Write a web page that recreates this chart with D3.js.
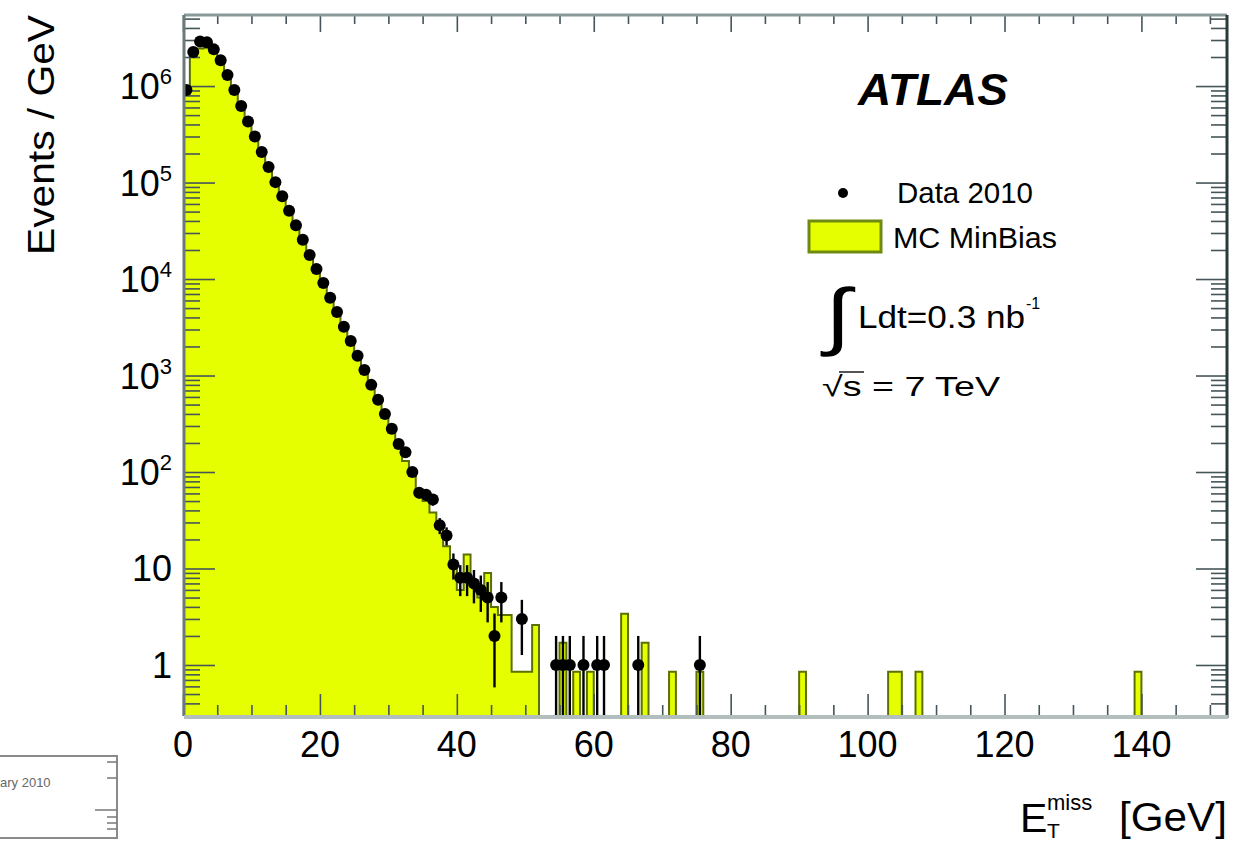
<!DOCTYPE html>
<html><head><meta charset="utf-8">
<script src="https://cdn.jsdelivr.net/npm/d3@7"></script>
<style>
body{margin:0;background:#fff}
text{font-family:"Liberation Sans",Arial,Helvetica,sans-serif;fill:#000}
</style>
</head><body>
<svg id="c" width="1237" height="841"></svg>
<script>
// ---- data: 1 GeV bins starting at 0 GeV ----
const dataCore = [9.1e5,2.25e6,2.9e6,2.85e6,2.4e6,1.85e6,1.3e6,9.1e5,6.2e5,4.3e5,
  3.0e5,2.07e5,1.45e5,1.01e5,7.2e4,5.1e4,3.6e4,2.55e4,1.77e4,1.27e4,
  9100,6400,4550,3200,2280,1600,1140,800,560,400,
  280,195,160,100,61,58,52,28,22,11,
  8,8,7,6,5,2,5,0,0,3];
const dataTailBins = [54,55,56,58,60,61,66,75];
const dataTailValues = [1,1,1,1,1,1,1,1];

const mcCore = [8.5e5,2.0e6,2.45e6,2.5e6,2.2e6,1.7e6,1.2e6,8.4e5,5.8e5,4.0e5,
  2.8e5,1.95e5,1.35e5,9.4e4,6.7e4,4.7e4,3.35e4,2.35e4,1.65e4,1.18e4,
  8400,5900,4200,2950,2100,1480,1050,740,520,365,
  255,180,130,92,65,50,38,26,17,11,
  6,14,7,5,9,4,3.3,3.3,0.85,0.85,
  0.85,2.6,0,0,0,1.7,0,0.85,0,0.85,
  0,0,0,0,3.4,0,0,1.7,0,0,
  0,0.85,0,0,0,0.85];
const mcTailBins = [90,103,104,107,139];
const mcTailValues = [0.85,0.85,0.85,0.85,0.85];

const xTickValues = [0,20,40,60,80,100,120,140];
const xTickLabels = ["0","20","40","60","80","100","120","140"];
const yTickValues = [1,10,100,1e3,1e4,1e5,1e6];
const yTickBase = ["1","10","10","10","10","10","10"];
const yTickExp  = ["","","2","3","4","5","6"];

// ---- setup ----
const svg = d3.select("#c");
const L=184, R=1227, T=15, B=716;
const nBins = 153;
const x = d3.scaleLinear().domain([0,152.5]).range([183,1227]);
const y = d3.scaleLog().domain([0.296,5.45e6]).range([B,T]);
const yv = v => y(Math.max(v, 0.296));

svg.append("defs").append("clipPath").attr("id","pc")
  .append("rect").attr("x",L).attr("y",T).attr("width",R-L).attr("height",B-T);

// assemble MC histogram
const mc = new Array(nBins).fill(0);
mcCore.forEach((v,i)=>mc[i]=v);
mcTailBins.forEach((b,i)=>mc[b]=mcTailValues[i]);
const mcPts = mc.map((v,i)=>({e:i*1, v}));
mcPts.push({e:nBins, v:mc[nBins-1]});

const g = svg.append("g").attr("clip-path","url(#pc)");
g.append("path").datum(mcPts)
  .attr("d", d3.area().x(d=>x(d.e)).y0(B+2).y1(d=>yv(d.v)).curve(d3.curveStepAfter))
  .attr("fill","#e6ff00");
g.append("path").datum(mcPts)
  .attr("d", d3.line().x(d=>x(d.e)).y(d=>yv(d.v)).curve(d3.curveStepAfter))
  .attr("fill","none").attr("stroke","#5a7000").attr("stroke-width",2);

// ---- axes ticks (ROOT style, inward on all four sides) ----
const yMinor = [];
[0.1,1,10,100,1e3,1e4,1e5,1e6].forEach(d=>{for(let k=2;k<=9;k++){const v=d*k; if(v>=0.296&&v<=5.45e6) yMinor.push(v);}});
const xMinor = d3.range(0,151,5).filter(v=>v%20!==0);
const tickCol = "#45555a";
function styleAxis(sel){ sel.select(".domain").remove(); sel.selectAll("line").attr("stroke",tickCol).attr("stroke-width",1.6); }
svg.append("g").attr("transform",`translate(${L},0)`).call(d3.axisLeft(y).tickValues(yTickValues).tickSize(-31).tickFormat("")).call(styleAxis);
svg.append("g").attr("transform",`translate(${L},0)`).call(d3.axisLeft(y).tickValues(yMinor).tickSize(-16).tickFormat("")).call(styleAxis);
svg.append("g").attr("transform",`translate(${R},0)`).call(d3.axisRight(y).tickValues(yTickValues).tickSize(-31).tickFormat("")).call(styleAxis);
svg.append("g").attr("transform",`translate(${R},0)`).call(d3.axisRight(y).tickValues(yMinor).tickSize(-16).tickFormat("")).call(styleAxis);
svg.append("g").attr("transform",`translate(0,${B})`).call(d3.axisBottom(x).tickValues(xTickValues).tickSize(-22).tickFormat("")).call(styleAxis);
svg.append("g").attr("transform",`translate(0,${B})`).call(d3.axisBottom(x).tickValues(xMinor).tickSize(-11).tickFormat("")).call(styleAxis);
svg.append("g").attr("transform",`translate(0,${T})`).call(d3.axisTop(x).tickValues(xTickValues).tickSize(-17).tickFormat("")).call(styleAxis);
svg.append("g").attr("transform",`translate(0,${T})`).call(d3.axisTop(x).tickValues(xMinor).tickSize(-9).tickFormat("")).call(styleAxis);

// ---- data points ----
const dataPts = [];
dataCore.forEach((v,i)=>{ if(v>0) dataPts.push({c:i+0.5, v}); });
dataTailBins.forEach((b,i)=>dataPts.push({c:b+0.5, v:dataTailValues[i]}));
const dp = svg.append("g").attr("clip-path","url(#pc)");
dp.selectAll("line.err").data(dataPts).enter().append("line")
  .attr("x1",d=>x(d.c)).attr("x2",d=>x(d.c))
  .attr("y1",d=>y(d.v+Math.sqrt(d.v)))
  .attr("y2",d=>yv(d.v-Math.sqrt(d.v)))
  .attr("stroke","#000").attr("stroke-width",2.4);
dp.selectAll("circle").data(dataPts).enter().append("circle")
  .attr("cx",d=>x(d.c)).attr("cy",d=>y(d.v)).attr("r",6).attr("fill","#000");

// ---- frame ----
svg.append("line").attr("x1",L).attr("x2",R).attr("y1",T).attr("y2",T).attr("stroke","#8a9a9a").attr("stroke-width",3);
svg.append("line").attr("x1",L).attr("x2",L).attr("y1",T).attr("y2",B).attr("stroke","#6a7a7a").attr("stroke-width",3);
svg.append("line").attr("x1",R).attr("x2",R).attr("y1",T).attr("y2",B+2).attr("stroke","#2a3a3a").attr("stroke-width",3);
svg.append("line").attr("x1",L).attr("x2",R+1).attr("y1",B+1).attr("y2",B+1).attr("stroke","#b3bfbf").attr("stroke-width",4);

// ---- tick labels ----
svg.append("g").selectAll("text").data(xTickValues).enter().append("text")
  .attr("x",d=>x(d)).attr("y",757).attr("text-anchor","middle")
  .attr("font-size",36).text((d,i)=>xTickLabels[i]);

const yl = svg.append("g").selectAll("text").data(yTickValues).enter().append("text")
  .attr("x",172).attr("y",d=>y(d)+13).attr("text-anchor","end").attr("font-size",36);
yl.append("tspan").text((d,i)=>yTickBase[i]);
yl.append("tspan").attr("font-size",22).attr("dy",-15).text((d,i)=>yTickExp[i]);

// ---- axis titles ----
svg.append("text").attr("transform","translate(54,255) rotate(-90)")
  .attr("font-size",36).attr("textLength",240).attr("lengthAdjust","spacingAndGlyphs").text("Events / GeV");
svg.append("text").attr("x",1020).attr("y",832).attr("font-size",41).text("E");
svg.append("text").attr("x",1047).attr("y",838).attr("font-size",21).text("T");
svg.append("text").attr("x",1047).attr("y",810).attr("font-size",22).text("miss");
svg.append("text").attr("x",1119).attr("y",831).attr("font-size",41)
  .attr("textLength",108).attr("lengthAdjust","spacingAndGlyphs").text("[GeV]");

// ---- ATLAS + legend ----
svg.append("text").attr("x",858).attr("y",105).attr("font-size",44)
  .attr("font-weight","bold").attr("font-style","italic")
  .attr("textLength",150).attr("lengthAdjust","spacingAndGlyphs").text("ATLAS");
svg.append("circle").attr("cx",843).attr("cy",193).attr("r",5).attr("fill","#000");
svg.append("text").attr("x",897).attr("y",203).attr("font-size",30)
  .attr("textLength",136).attr("lengthAdjust","spacingAndGlyphs").text("Data 2010");
svg.append("rect").attr("x",809).attr("y",221).attr("width",72).attr("height",31)
  .attr("fill","#e6ff00").attr("stroke","#6f8a10").attr("stroke-width",3);
svg.append("text").attr("x",893).attr("y",248).attr("font-size",30)
  .attr("textLength",164).attr("lengthAdjust","spacingAndGlyphs").text("MC MinBias");
svg.append("text").attr("transform","translate(825,341) scale(1.3,1.03)")
  .attr("font-size",72).attr("font-family","DejaVu Sans").text("∫");
svg.append("text").attr("x",858).attr("y",328).attr("font-size",31)
  .attr("textLength",167).attr("lengthAdjust","spacingAndGlyphs").text("Ldt=0.3 nb");
svg.append("text").attr("x",1026).attr("y",309).attr("font-size",16).text("-1");
svg.append("text").attr("x",822).attr("y",396).attr("font-size",28)
  .attr("textLength",178).attr("lengthAdjust","spacingAndGlyphs").text("√s = 7 TeV");
svg.append("line").attr("x1",839).attr("x2",864).attr("y1",372).attr("y2",372).attr("stroke","#555").attr("stroke-width",2);

// ---- fragment of neighbouring figure at bottom-left ----
const fr = svg.append("g");
fr.append("rect").attr("x",-4).attr("y",756).attr("width",121).attr("height",82)
  .attr("fill","none").attr("stroke","#8a8a8a").attr("stroke-width",2);
fr.append("text").attr("x",0).attr("y",787).attr("font-size",13).style("fill","#666").text("ary 2010");
[[762,10],[778,10],[810,22],[817,10],[823,10],[829,10]].forEach(t=>{
  fr.append("line").attr("x1",117-t[1]).attr("x2",117).attr("y1",t[0]).attr("y2",t[0]).attr("stroke","#777").attr("stroke-width",1.5);
});
</script>
</body></html>
